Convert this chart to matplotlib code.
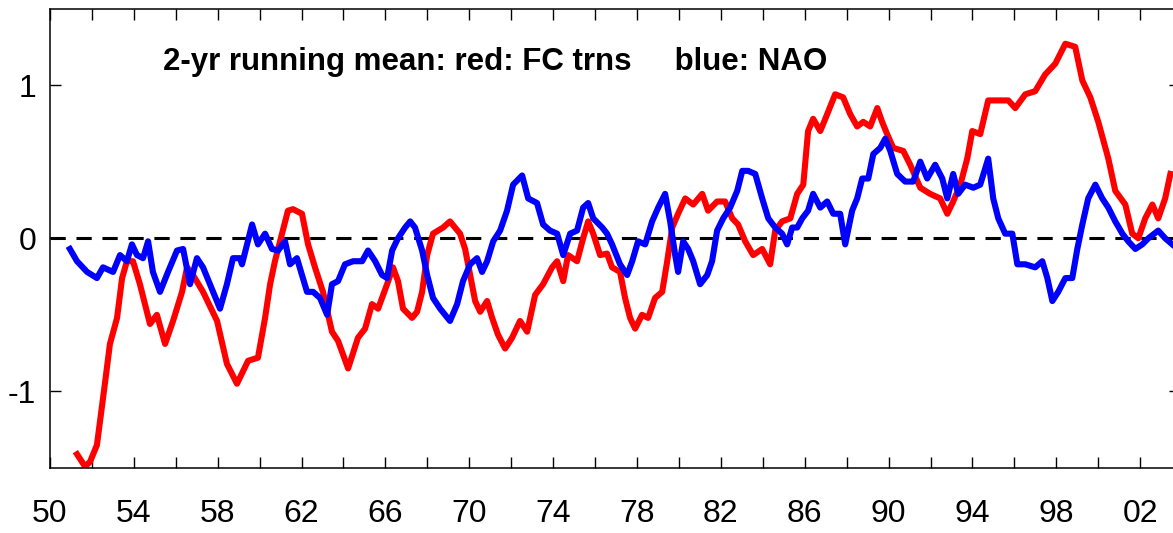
import matplotlib
matplotlib.use('Agg')
import matplotlib.pyplot as plt

plt.rcParams['font.family'] = ['Liberation Sans', 'DejaVu Sans']

# red: FC trns (2-yr running mean)
fc_year = [51.29, 51.67, 51.91, 52.24, 52.62, 52.86, 53.20, 53.44, 53.67, 53.96,
           54.29, 54.77, 55.10, 55.49, 55.87, 56.30, 56.54, 56.82, 57.30, 57.97,
           58.44, 58.92, 59.45, 59.92, 60.26, 60.50, 60.73, 61.07, 61.35, 61.59,
           62.02, 62.31, 62.64, 63.02, 63.45, 63.74, 64.22, 64.69, 65.03, 65.36,
           65.65, 66.08, 66.36, 66.60, 66.84, 67.27, 67.51, 67.75, 67.99, 68.27,
           68.75, 69.08, 69.56, 69.80, 70.04, 70.28, 70.52, 70.85, 71.09, 71.37,
           71.71, 72.04, 72.42, 72.76, 73.14, 73.52, 73.95, 74.19, 74.48, 74.71,
           75.14, 75.43, 75.67, 75.91, 76.24, 76.57, 76.81, 77.19, 77.43, 77.67,
           77.91, 78.24, 78.53, 78.86, 79.20, 79.44, 79.68, 79.96, 80.30, 80.68,
           81.11, 81.39, 81.82, 82.20, 82.54, 82.82, 83.16, 83.54, 83.97, 84.35,
           84.59, 84.92, 85.31, 85.64, 85.93, 86.16, 86.40, 86.74, 87.07, 87.45,
           87.83, 88.17, 88.50, 88.79, 89.12, 89.46, 89.69, 89.93, 90.22, 90.70,
           91.03, 91.51, 91.98, 92.46, 92.80, 93.08, 93.42, 93.75, 93.99, 94.37,
           94.75, 95.23, 95.71, 96.04, 96.52, 96.99, 97.47, 97.95, 98.43, 98.90,
           99.24, 99.62, 100.00, 100.48, 100.81, 101.29, 101.62, 101.91, 102.24, 102.58,
           102.86, 103.19, 103.44]
fc_val = [-1.41, -1.49, -1.46, -1.35, -0.95, -0.69, -0.52, -0.26, -0.15, -0.15,
          -0.30, -0.56, -0.50, -0.69, -0.54, -0.35, -0.19, -0.24, -0.35, -0.54,
          -0.82, -0.95, -0.80, -0.78, -0.52, -0.30, -0.15, 0.03, 0.18, 0.19,
          0.16, -0.04, -0.19, -0.35, -0.61, -0.67, -0.85, -0.65, -0.59, -0.43,
          -0.46, -0.30, -0.19, -0.28, -0.46, -0.52, -0.48, -0.35, -0.11, 0.03,
          0.07, 0.11, 0.03, -0.07, -0.24, -0.41, -0.48, -0.41, -0.52, -0.63,
          -0.72, -0.65, -0.54, -0.61, -0.37, -0.30, -0.19, -0.15, -0.28, -0.11,
          -0.15, 0.00, 0.11, 0.03, -0.11, -0.10, -0.19, -0.22, -0.39, -0.52,
          -0.59, -0.50, -0.52, -0.39, -0.35, -0.15, 0.07, 0.16, 0.26, 0.22,
          0.29, 0.18, 0.24, 0.24, 0.13, 0.09, -0.02, -0.11, -0.07, -0.17,
          0.05, 0.11, 0.13, 0.29, 0.35, 0.70, 0.78, 0.70, 0.81, 0.94,
          0.92, 0.81, 0.73, 0.76, 0.73, 0.85, 0.76, 0.68, 0.59, 0.57,
          0.48, 0.33, 0.29, 0.26, 0.16, 0.24, 0.35, 0.52, 0.70, 0.68,
          0.90, 0.90, 0.90, 0.85, 0.94, 0.96, 1.07, 1.14, 1.27, 1.25,
          1.03, 0.92, 0.76, 0.52, 0.31, 0.22, 0.03, 0.00, 0.13, 0.22,
          0.13, 0.26, 0.42]

# blue: NAO (2-yr running mean)
nao_year = [50.95, 51.29, 51.77, 52.24, 52.53, 53.01, 53.34, 53.67, 53.91, 54.15,
            54.44, 54.68, 54.91, 55.25, 55.63, 56.06, 56.35, 56.68, 57.01, 57.30,
            57.78, 58.11, 58.44, 58.73, 59.06, 59.16, 59.64, 59.92, 60.26, 60.59,
            60.88, 61.21, 61.45, 61.78, 62.02, 62.26, 62.55, 62.88, 63.22, 63.45,
            63.74, 64.07, 64.46, 64.89, 65.17, 65.51, 65.84, 66.08, 66.32, 66.60,
            66.94, 67.18, 67.41, 67.75, 67.99, 68.27, 68.61, 69.08, 69.42, 69.70,
            70.04, 70.37, 70.61, 70.85, 71.14, 71.47, 71.80, 72.09, 72.52, 72.81,
            73.23, 73.52, 73.85, 74.19, 74.48, 74.81, 75.14, 75.43, 75.67, 75.91,
            76.34, 76.57, 76.81, 77.19, 77.53, 77.77, 78.05, 78.39, 78.72, 79.01,
            79.34, 79.58, 79.82, 79.96, 80.20, 80.44, 80.68, 81.01, 81.35, 81.58,
            81.82, 82.11, 82.44, 82.78, 83.02, 83.30, 83.64, 83.97, 84.26, 84.59,
            84.92, 85.16, 85.40, 85.64, 85.88, 86.16, 86.40, 86.74, 87.07, 87.36,
            87.69, 87.93, 88.26, 88.50, 88.74, 89.03, 89.27, 89.60, 89.84, 90.08,
            90.41, 90.79, 91.17, 91.51, 91.84, 92.22, 92.56, 92.80, 93.08, 93.32,
            93.65, 94.04, 94.37, 94.75, 94.99, 95.23, 95.56, 95.90, 96.14, 96.52,
            96.99, 97.33, 97.57, 97.81, 98.09, 98.43, 98.76, 99.00, 99.24, 99.52,
            99.86, 100.19, 100.48, 100.81, 101.15, 101.43, 101.77, 102.10, 102.39, 102.86,
            103.19, 103.53]
nao_val = [-0.07, -0.15, -0.22, -0.26, -0.19, -0.22, -0.11, -0.15, -0.04, -0.11,
           -0.13, -0.02, -0.22, -0.35, -0.22, -0.08, -0.07, -0.30, -0.13, -0.19,
           -0.35, -0.46, -0.30, -0.13, -0.13, -0.17, 0.09, -0.04, 0.03, -0.07,
           -0.08, -0.02, -0.17, -0.13, -0.24, -0.35, -0.35, -0.39, -0.50, -0.30,
           -0.28, -0.17, -0.15, -0.15, -0.08, -0.15, -0.24, -0.26, -0.08, 0.00,
           0.07, 0.11, 0.07, -0.08, -0.24, -0.39, -0.46, -0.54, -0.43, -0.28,
           -0.17, -0.13, -0.22, -0.15, -0.02, 0.05, 0.18, 0.35, 0.41, 0.26,
           0.23, 0.09, 0.05, 0.03, -0.11, 0.03, 0.05, 0.20, 0.23, 0.13,
           0.07, 0.03, -0.04, -0.17, -0.24, -0.15, -0.02, -0.04, 0.11, 0.20,
           0.29, 0.11, -0.11, -0.22, -0.02, -0.07, -0.15, -0.30, -0.24, -0.15,
           0.05, 0.13, 0.20, 0.31, 0.44, 0.44, 0.42, 0.26, 0.13, 0.07,
           0.03, -0.04, 0.07, 0.07, 0.13, 0.18, 0.29, 0.20, 0.24, 0.16,
           0.16, -0.04, 0.18, 0.26, 0.39, 0.39, 0.55, 0.59, 0.65, 0.57,
           0.42, 0.37, 0.37, 0.50, 0.39, 0.48, 0.39, 0.26, 0.42, 0.29,
           0.35, 0.33, 0.35, 0.52, 0.26, 0.13, 0.03, 0.03, -0.17, -0.17,
           -0.19, -0.15, -0.26, -0.41, -0.35, -0.26, -0.26, -0.07, 0.09, 0.26,
           0.35, 0.26, 0.20, 0.11, 0.03, -0.02, -0.07, -0.04, 0.00, 0.05,
           0.00, -0.04]

xticks = list(range(50, 104, 2))
xlabels = [f'{y % 100:02d}' if (y - 50) % 4 == 0 else '' for y in xticks]
yticks = [-1, 0, 1]
title = '2-yr running mean: red: FC trns     blue: NAO'

fig = plt.figure(figsize=(11.73, 5.33), dpi=100)
ax = fig.add_axes([0.0426, 0.122, 0.9634, 0.862])

ax.axhline(0, color='black', lw=2.2, dashes=(5, 3.5), zorder=1)
ax.plot(fc_year, fc_val, color='#ff0000', lw=4.4, zorder=2)
ax.plot(nao_year, nao_val, color='#0000ff', lw=4.4, zorder=3)

ax.set_xlim(50, 103.9)
ax.set_ylim(-1.5, 1.5)
ax.set_xticks(xticks)
ax.set_xticklabels(xlabels)
ax.set_yticks(yticks)
ax.set_yticklabels([str(v) for v in yticks])

ax.tick_params(axis='x', direction='in', length=8, width=1, top=True,
               labelsize=23, pad=22)
ax.tick_params(axis='y', direction='in', length=8, width=1, right=True,
               labelsize=23, pad=10)
for s in ax.spines.values():
    s.set_linewidth(1.1)

ax.text(0.0998, 0.884, title, transform=ax.transAxes, fontsize=22.5,
        fontweight='bold', va='center', ha='left')

fig.savefig('out.png', dpi=100)
